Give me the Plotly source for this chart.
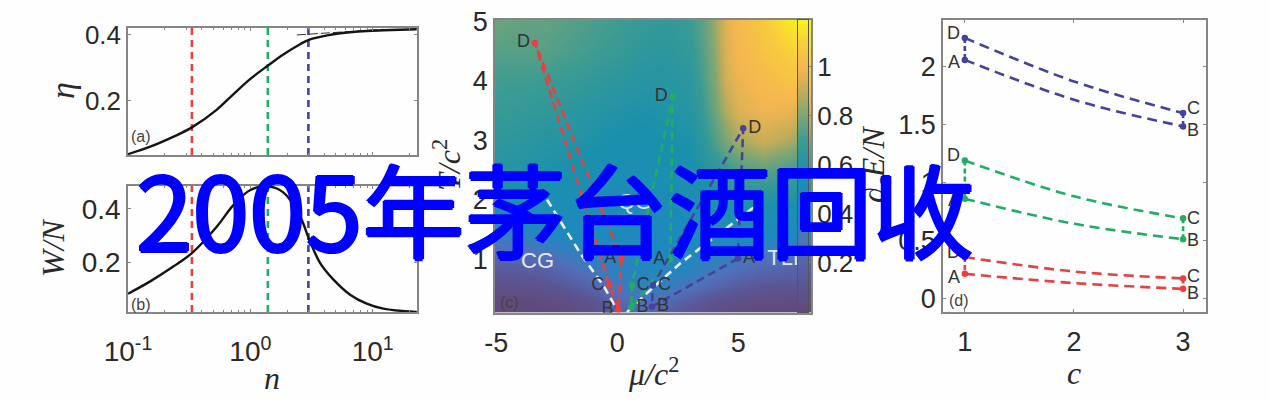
import plotly.graph_objects as go

# ---------- data ----------
n_values = [0.1, 0.152, 0.236, 0.333, 0.533, 0.729, 1.0, 1.4, 1.86, 2.55, 3.0, 3.72, 4.78, 6.53, 8.93, 12.2, 22.9]
eta_values = [0.039, 0.0616, 0.092, 0.12, 0.174, 0.221, 0.267, 0.308, 0.341, 0.372, 0.385, 0.394, 0.402, 0.408, 0.412, 0.414, 0.417]
wn_values = [0.081, 0.1275, 0.184, 0.234, 0.334, 0.415, 0.471, 0.485, 0.462, 0.372, 0.29, 0.196, 0.134, 0.0775, 0.044, 0.025, 0.0125]
asym_n = [2.4, 12.2]
asym_eta = [0.4, 0.417]
vline_n = [0.333, 1.39, 2.98]

RED, GREEN, BLUE = "#ea3f3f", "#1fae63", "#43439f"
series_colors = [RED, GREEN, BLUE]

hm_x = [-5, -4, -3, -2, -1, 0, 1, 2, 3, 3.5, 4, 4.5, 5, 6, 7, 8]
hm_y = [0.1, 0.3, 0.5, 0.75, 1, 1.25, 1.5, 2, 2.5, 3, 3.5, 4, 4.5, 5.03]
hm_z = [
    [0.00, 0.00, 0.01, 0.02, 0.05, 0.18, 0.24, 0.17, 0.10, 0.07, 0.04, 0.03, 0.02, 0.01, 0.01, 0.00],
    [0.02, 0.02, 0.03, 0.05, 0.10, 0.24, 0.30, 0.25, 0.17, 0.12, 0.09, 0.07, 0.06, 0.05, 0.04, 0.03],
    [0.06, 0.06, 0.08, 0.12, 0.20, 0.32, 0.37, 0.35, 0.28, 0.24, 0.20, 0.17, 0.14, 0.10, 0.09, 0.08],
    [0.12, 0.13, 0.16, 0.22, 0.30, 0.38, 0.40, 0.40, 0.38, 0.34, 0.30, 0.27, 0.24, 0.20, 0.18, 0.17],
    [0.20, 0.22, 0.26, 0.32, 0.38, 0.40, 0.42, 0.42, 0.42, 0.40, 0.38, 0.36, 0.33, 0.28, 0.26, 0.25],
    [0.30, 0.32, 0.36, 0.40, 0.43, 0.44, 0.44, 0.44, 0.44, 0.44, 0.44, 0.43, 0.42, 0.40, 0.38, 0.36],
    [0.40, 0.42, 0.44, 0.46, 0.46, 0.46, 0.46, 0.46, 0.47, 0.48, 0.48, 0.48, 0.48, 0.48, 0.48, 0.47],
    [0.55, 0.54, 0.53, 0.52, 0.50, 0.49, 0.49, 0.50, 0.52, 0.54, 0.56, 0.58, 0.60, 0.60, 0.60, 0.60],
    [0.62, 0.61, 0.59, 0.57, 0.55, 0.53, 0.53, 0.54, 0.56, 0.60, 0.64, 0.68, 0.72, 0.76, 0.72, 0.68],
    [0.65, 0.64, 0.62, 0.61, 0.59, 0.57, 0.56, 0.57, 0.59, 0.64, 0.72, 0.80, 0.86, 0.92, 0.88, 0.80],
    [0.68, 0.67, 0.66, 0.64, 0.62, 0.60, 0.59, 0.60, 0.62, 0.68, 0.77, 0.88, 0.95, 0.99, 0.98, 0.95],
    [0.70, 0.70, 0.69, 0.68, 0.66, 0.64, 0.62, 0.62, 0.64, 0.71, 0.80, 0.93, 0.98, 1.02, 1.05, 1.08],
    [0.74, 0.74, 0.74, 0.72, 0.70, 0.68, 0.65, 0.64, 0.67, 0.73, 0.82, 0.95, 1.00, 1.05, 1.10, 1.15],
    [0.78, 0.76, 0.76, 0.74, 0.72, 0.70, 0.68, 0.66, 0.69, 0.75, 0.84, 0.96, 1.01, 1.08, 1.16, 1.19],
]
cbar_levels = [0, 0.1, 0.2, 0.3, 0.4, 0.5, 0.6, 0.7, 0.8, 0.9, 1.0, 1.1, 1.19]
cmap_stops = [
    [0.0, "#61497a"], [0.12, "#5a5a9c"], [0.24, "#4f72bb"], [0.36, "#1f88c0"],
    [0.48, "#1a90ad"], [0.58, "#3a9b93"], [0.68, "#80a673"], [0.76, "#c4ad58"],
    [0.84, "#f5b650"], [0.92, "#f8cc3c"], [1.0, "#f8f51e"],
]

boundary_left_x = [-2.9, -2.2, -1.53, -0.58, 0.05]
boundary_left_y = [2.0, 1.54, 1.1, 0.56, 0.11]
boundary_right_x = [0.4, 1.23, 2.6, 3.97, 5.63]
boundary_right_y = [0.11, 0.43, 0.93, 1.35, 1.87]
phase_tll_label = ["TLL"]
phase_tll_mu = [6.98]
phase_tll_t = [0.99]

loop_labels = ["A", "B", "C", "D"]
c_red_mu = [0.17, 0.05, -0.33, -3.4]
c_red_t = [1.01, 0.155, 0.56, 4.635]
c_green_mu = [2.19, 0.58, 0.6, 2.29]
c_green_t = [1.0, 0.19, 0.56, 3.73]
c_blue_mu = [4.98, 1.43, 1.47, 5.2]
c_blue_t = [1.01, 0.2, 0.56, 3.2]
c_mu = [c_red_mu, c_green_mu, c_blue_mu]
c_t = [c_red_t, c_green_t, c_blue_t]
c_label_pos = [
    ["middle left", "middle left", "middle left", "middle left"],
    ["middle left", "middle right", "middle right", "middle left"],
    ["middle right", "middle right", "middle right", "middle right"],
]

d_c = [1, 2, 3]
d_red_top = [0.355, 0.23, 0.17]
d_red_low = [0.21, 0.13, 0.08]
d_green_top = [1.19, 0.88, 0.69]
d_green_low = [0.86, 0.643, 0.51]
d_blue_top = [2.25, 1.874, 1.60]
d_blue_low = [2.06, 1.715, 1.485]
d_top = [d_red_top, d_green_top, d_blue_top]
d_low = [d_red_low, d_green_low, d_blue_low]

# ---------- layout helpers ----------
W, H = 1269, 401
def xd(a, b): return [a / W, b / W]
def yd(t, b): return [1 - b / H, 1 - t / H]

INK = "#2a2a2a"
FRAME = "#858585"
SERIF = "Liberation Serif"
SANS = "Liberation Sans"

fig = go.Figure()

def base_axis(**kw):
    d = dict(automargin=False, showgrid=False, zeroline=False, showline=True, linecolor=FRAME, linewidth=1.5,
             mirror="ticks", ticks="inside", ticklen=3, tickcolor=FRAME,
             tickfont=dict(family=SANS, size=25, color=INK))
    d.update(kw)
    return d

dec_vals = [0.1, 1, 10]
dec_text = ["10<sup>-1</sup>", "10<sup>0</sup>", "10<sup>1</sup>"]
minor_vals = [0.2, 0.3, 0.4, 0.5, 0.6, 0.7, 0.8, 0.9, 2, 3, 4, 5, 6, 7, 8, 9, 20]
log_range = [-1, 1.362]

# panel (a)
for x_v, col in zip(vline_n, series_colors):
    fig.add_trace(go.Scatter(x=[x_v, x_v], y=[0.0364, 0.421], mode="lines", xaxis="x", yaxis="y",
                             line=dict(color=col, width=2.6, dash="7px,5px"), showlegend=False))
fig.add_trace(go.Scatter(x=asym_n, y=asym_eta, mode="lines", xaxis="x", yaxis="y",
                         line=dict(color="#333", width=1, dash="9px,3px"), showlegend=False))
fig.add_trace(go.Scatter(x=n_values, y=eta_values, mode="lines", xaxis="x", yaxis="y",
                         line=dict(color="#151515", width=2.4, shape="spline"), showlegend=False))
# panel (b)
for x_v, col in zip(vline_n, series_colors):
    fig.add_trace(go.Scatter(x=[x_v, x_v], y=[0.0125, 0.486], mode="lines", xaxis="x2", yaxis="y2",
                             line=dict(color=col, width=2.6, dash="7px,5px"), showlegend=False))
fig.add_trace(go.Scatter(x=n_values, y=wn_values, mode="lines", xaxis="x2", yaxis="y2",
                         line=dict(color="#151515", width=2.4, shape="spline"), showlegend=False))
# panel (c)
fig.add_trace(go.Heatmap(x=hm_x, y=hm_y, z=hm_z, xaxis="x3", yaxis="y3", zsmooth="best",
                         colorscale=cmap_stops, zmin=0, zmax=1.19, showscale=False))
for bx, by in [(boundary_left_x, boundary_left_y), (boundary_right_x, boundary_right_y)]:
    fig.add_trace(go.Scatter(x=bx, y=by, mode="lines", xaxis="x3", yaxis="y3",
                             line=dict(color="rgba(255,255,255,0.9)", width=2.6, dash="8px,5px"), showlegend=False))
fig.add_trace(go.Scatter(x=phase_tll_mu, y=phase_tll_t, mode="text", xaxis="x3", yaxis="y3", text=phase_tll_label,
                         textposition="middle center", textfont=dict(family=SANS, size=22, color="#dfe6f0"),
                         cliponaxis=False, showlegend=False))
for mu, t, col, pos in zip(c_mu, c_t, series_colors, c_label_pos):
    fig.add_trace(go.Scatter(x=mu + [mu[0]], y=t + [t[0]], mode="lines", xaxis="x3", yaxis="y3",
                             line=dict(color=col, width=2.6, dash="8px,5px"), showlegend=False))
    fig.add_trace(go.Scatter(x=mu, y=t, mode="markers+text", xaxis="x3", yaxis="y3", text=loop_labels,
                             textposition=pos, textfont=dict(family=SANS, size=18, color="#333"),
                             marker=dict(color=col, size=6.5), showlegend=False))
# colour bar of panel (c), drawn as a narrow heatmap on its own axes (it covers the end of "TLL")
fig.add_trace(go.Heatmap(x=[0, 1], y=cbar_levels, z=[[v, v] for v in cbar_levels], xaxis="x5", yaxis="y5",
                         zsmooth="best", colorscale=cmap_stops, zmin=0, zmax=1.19, showscale=False))
# panel (d)
for top, low, col in zip(d_top, d_low, series_colors):
    fig.add_trace(go.Scatter(x=d_c, y=top, mode="lines", xaxis="x4", yaxis="y4",
                             line=dict(color=col, width=2.6, dash="10px,6px", shape="spline"), showlegend=False))
    fig.add_trace(go.Scatter(x=d_c, y=low, mode="lines", xaxis="x4", yaxis="y4",
                             line=dict(color=col, width=2.6, dash="10px,6px", shape="spline"), showlegend=False))
    for idx in (0, 2):
        fig.add_trace(go.Scatter(x=[d_c[idx], d_c[idx]], y=[top[idx], low[idx]], mode="lines+markers",
                                 xaxis="x4", yaxis="y4", marker=dict(color=col, size=6.5),
                                 line=dict(color=col, width=2.6, dash="5px,3px"), showlegend=False))

layout = dict(
    width=W, height=H, margin=dict(l=0, r=0, t=0, b=0), autosize=False,
    paper_bgcolor="#fefefe", plot_bgcolor="#fefefe", showlegend=False,
    xaxis=base_axis(type="log", domain=xd(128, 417), range=log_range, anchor="y", tickvals=dec_vals,
                    showticklabels=False, minor=dict(tickvals=minor_vals, ticks="inside", ticklen=2, tickcolor=FRAME)),
    yaxis=base_axis(domain=yd(28, 155), range=[0.0364, 0.421], anchor="x", tickvals=[0.2, 0.4], tickformat=".1f", ticksuffix=" ",
                    tickfont=dict(family=SANS, size=26, color=INK)),
    xaxis2=base_axis(type="log", domain=xd(128, 417), range=log_range, anchor="y2", tickvals=dec_vals, ticktext=dec_text,
                     minor=dict(tickvals=minor_vals, ticks="inside", ticklen=2, tickcolor=FRAME),
                     ticklabelstandoff=14, tickfont=dict(family=SANS, size=28, color=INK)),
    yaxis2=base_axis(domain=yd(186, 312), range=[0.0125, 0.486], anchor="x2", tickvals=[0.2, 0.4], tickformat=".1f",
                     ticksuffix=" ", tickfont=dict(family=SANS, size=28, color=INK)),
    xaxis3=base_axis(domain=xd(495, 811), range=[-5.05, 8.0], anchor="y3", tickvals=[-5, 0, 5], ticktext=["-5", "0", "5"], ticks="",
                     ticklabelstandoff=5, tickfont=dict(family=SANS, size=27, color=INK)),
    yaxis3=base_axis(domain=yd(19.5, 312.7), range=[0.1, 5.03], anchor="x3", tickvals=[1, 2, 3, 4, 5], ticks="", ticksuffix=" ",
                     tickfont=dict(family=SANS, size=27, color=INK)),
    xaxis5=dict(automargin=False, domain=xd(798, 808), range=[0, 1], anchor="y5", showticklabels=False, ticks="", showgrid=False,
                zeroline=False, showline=True, linecolor="#555", linewidth=1, mirror=True),
    yaxis5=dict(automargin=False, domain=yd(20, 312), range=[0, 1.19], anchor="x5", side="right", tickvals=[0.2, 0.4, 0.6, 0.8, 1],
                ticktext=["0.2", "0.4", "0.6", "0.8", "1"], ticks="outside", ticklen=3, tickcolor=FRAME, showgrid=False,
                zeroline=False, showline=True, linecolor="#555", linewidth=1, mirror=True,
                tickfont=dict(family=SANS, size=26, color=INK)),
    xaxis4=base_axis(domain=xd(943, 1206), range=[0.8, 3.21], anchor="y4", tickvals=[1, 2, 3], ticklabelstandoff=5,
                     tickfont=dict(family=SANS, size=27, color=INK)),
    yaxis4=base_axis(domain=yd(20, 312), range=[-0.12, 2.405], anchor="x4", tickvals=[0, 0.5, 1, 1.5, 2],
                     ticktext=["0", "0.5", "1", "1.5", "2"], ticksuffix=" ", tickfont=dict(family=SANS, size=27, color=INK)),
)
fig.update_layout(**layout)

def note(text, px, py, size, color=INK, family=SANS, angle=0, shadow=None):
    f = dict(family=family, size=size, color=color)
    if shadow:
        f["shadow"] = shadow
    fig.add_annotation(text=text, x=px / W, y=1 - py / H, xref="paper", yref="paper", showarrow=False,
                       xanchor="center", yanchor="middle", textangle=angle, font=f)

# letter labels of panel (d), tied to the data points with small pixel offsets
d_label_shift = {
    "D": [(-11, 5), (-11, 6), (-11, 5)], "A": [(-11, -3), (-11, -1), (-11, -2)],
    "C": [(10, 2), (10, 0), (10, 5)], "B": [(10, -4), (10, -1), (10, -4)],
}
for i in range(3):
    for lab, xv, yv in (("D", 1, d_top[i][0]), ("A", 1, d_low[i][0]), ("C", 3, d_top[i][2]), ("B", 3, d_low[i][2])):
        sx, sy = d_label_shift[lab][i]
        fig.add_annotation(text=lab, x=xv, y=yv, xref="x4", yref="y4", showarrow=False, xshift=sx, yshift=sy,
                           font=dict(family=SANS, size=18, color="#333"))

note("<i>η</i>", 63, 91, 34, family=SERIF, angle=-90)
note("<i>W/N</i>", 53, 248, 32, family=SERIF, angle=-90)
note("<i>n</i>", 272, 378, 32, family=SERIF)
note("<i>μ/c</i><sup>2</sup>", 653, 372, 32, family=SERIF)
note("<i>T/c</i><sup>2</sup>", 447, 165, 32, family=SERIF, angle=-90)
note("<i>∂<sub>c</sub>E/N</i>", 875, 165, 32, family=SERIF, angle=-90)
note("<i>c</i>", 1074, 373, 32, family=SERIF)
note("(a)", 141, 137, 16, color="#444")
note("(b)", 141, 304, 16, color="#444")
note("(c)", 509, 302, 16, color="#444")
note("(d)", 959, 300, 16, color="#444")
note("CG", 537, 260, 22, color="#e6e6ee")
note("QG", 635, 201, 22, color="#d8e6ee")
note("2005年茅台酒回收", 555, 206, 102, color="#0000ff", family="Noto Sans CJK SC",
     shadow="1.5px 0 0 #0000ff, -1.5px 0 0 #0000ff, 0 1.5px 0 #0000ff, 0 -1.5px 0 #0000ff")

fig.write_html("out.html", config=dict(displayModeBar=False), post_script="document.body.style.margin='0';")
